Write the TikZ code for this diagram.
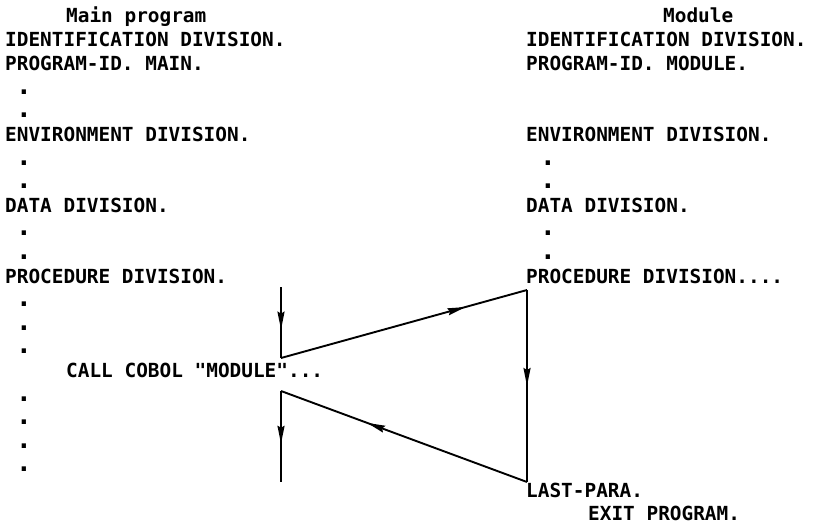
\documentclass[tikz,border=0pt]{standalone}
\usepackage{fontspec}
\newfontfamily\cobolfont{DejaVu Sans Mono}
\usetikzlibrary{arrows.meta}
\usetikzlibrary{decorations.markings}

\tikzset{
  line/.style={font=\cobolfont\bfseries\fontsize{19.4}{23}\selectfont, inner sep=0pt, anchor=base west},
  dotline/.style={line, font=\cobolfont\bfseries\fontsize{26}{23}\selectfont, anchor=base},
  flow/.style={line width=1.9pt, line join=miter},
  midarrow/.style={postaction={decorate, decoration={markings,
        mark=at position #1 with {\arrow{Stealth[length=18pt, width=7pt, inset=2pt]}}}}}
}

\begin{document}
\begin{tikzpicture}[x=1pt, y=-1pt]
  \useasboundingbox (0,0) rectangle (818,527);

  \node[line] (mainTitle)  at (66,23)  {Main program};
  \node[line] (mainIdent)  at (5,47)   {IDENTIFICATION DIVISION.};
  \node[line] (mainProgId) at (5,70.6) {PROGRAM-ID. MAIN.};
  \node[line] (mainEnv)    at (5,141.5) {ENVIRONMENT DIVISION.};
  \node[line] (mainData)   at (5,212.3) {DATA DIVISION.};
  \node[line] (mainProc)   at (5,283.1) {PROCEDURE DIVISION.};
  \node[line] (callLine)   at (66,377.5) {CALL COBOL "MODULE"...};
  \foreach \k in {3,4,6,7,9,10,12,13,14,16,17,18,19}
    \node[dotline] (ldot\k) at (24,{23.5+23.6*\k}) {.};

  \node[line] (modTitle)  at (663,23)  {Module};
  \node[line] (modIdent)  at (526,47)  {IDENTIFICATION DIVISION.};
  \node[line] (modProgId) at (526,70.6) {PROGRAM-ID. MODULE.};
  \node[line] (modEnv)    at (526,141.5) {ENVIRONMENT DIVISION.};
  \node[line] (modData)   at (526,212.3) {DATA DIVISION.};
  \node[line] (modProc)   at (526,283.1) {PROCEDURE DIVISION....};
  \node[line] (lastPara)  at (526,497) {LAST-PARA.};
  \node[line] (exitProg)  at (588,520) {EXIT PROGRAM.};
  \foreach \k in {6,7,9,10}
    \node[dotline] (rdot\k) at (548,{23.5+23.6*\k}) {.};

  \coordinate (callIn)   at (281,287);
  \coordinate (callOut)  at (281,358);
  \coordinate (modStart) at (527,290);
  \coordinate (modEnd)   at (527,482);
  \coordinate (backIn)   at (281,391);
  \coordinate (backOut)  at (281,482);

  \draw[flow, midarrow=0.6] (callIn) -- (callOut);
  \draw[flow, midarrow=0.75] (callOut) -- (modStart);
  \draw[flow, midarrow=0.5] (modStart) -- (modEnd);
  \draw[flow, midarrow=0.65] (modEnd) -- (backIn);
  \draw[flow, midarrow=0.58] (backIn) -- (backOut);
\end{tikzpicture}
\end{document}
